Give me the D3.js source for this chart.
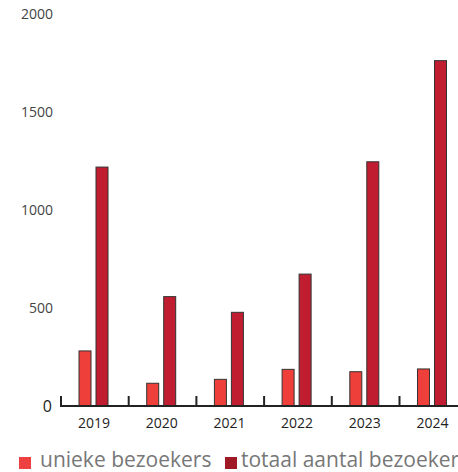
<!DOCTYPE html>
<html>
<head>
<meta charset="utf-8">
<script src="https://cdn.jsdelivr.net/npm/d3@7"></script>
<style>
  body { margin: 0; background: #fff; }
  svg { display: block; font-family: "Open Sans", sans-serif; }
</style>
</head>
<body>
<script>
// data
var years = ["2019", "2020", "2021", "2022", "2023", "2024"];
var series = ["unieke bezoekers", "totaal aantal bezoekers"];
var unique = [281, 116, 136, 187, 175, 189];
var total = [1219, 558, 478, 673, 1246, 1762];
var yTicks = [0, 500, 1000, 1500, 2000];

var barColors = ["#ee3f3a", "#c01e30"];
var legendColors = ["#ee4040", "#9f1a25"];

var svg = d3.select("body").append("svg")
    .attr("width", 458)
    .attr("height", 472);

var x0 = d3.scaleBand().domain(years).range([61, 61 + 67.7 * years.length]);
var x1 = d3.scaleBand().domain(series).range([18, 47]).paddingInner(5 / 17);
var y = d3.scaleLinear().domain([0, 2000]).range([406, 14]);

// y labels, no axis line (the zero is drawn a bit bigger and darker)
svg.append("g").selectAll("text")
    .data(yTicks)
    .enter().append("text")
    .attr("x", function (d) { return d === 0 ? 52 : 53; })
    .attr("y", function (d) { return y(d); })
    .attr("dy", "0.35em")
    .attr("text-anchor", "end")
    .attr("font-size", function (d) { return d === 0 ? 16 : 14; })
    .attr("fill", function (d) { return d === 0 ? "#222" : "#444"; })
    .text(function (d) { return d; });

// bars
var groups = svg.append("g").selectAll("g")
    .data(years)
    .enter().append("g")
    .attr("transform", function (d) { return "translate(" + x0(d) + ",0)"; });

groups.selectAll("rect")
    .data(function (d, i) { return [unique[i], total[i]]; })
    .enter().append("rect")
    .attr("x", function (d, j) { return x1(series[j]); })
    .attr("width", x1.bandwidth())
    .attr("y", function (d) { return y(d); })
    .attr("height", function (d) { return y(0) - y(d); })
    .attr("fill", function (d, j) { return barColors[j]; })
    .attr("stroke", "#333")
    .attr("stroke-width", 1);

// x axis: baseline with upward ticks at band edges
var xAxis = svg.append("g").attr("transform", "translate(0," + y(0) + ")");
xAxis.append("line")
    .attr("x1", 60).attr("x2", 458)
    .attr("stroke", "#222").attr("stroke-width", 2);
xAxis.selectAll("line.tick")
    .data(years)
    .enter().append("line")
    .attr("class", "tick")
    .attr("x1", function (d) { return x0(d); })
    .attr("x2", function (d) { return x0(d); })
    .attr("y1", 0).attr("y2", -10)
    .attr("stroke", "#222").attr("stroke-width", 2);
xAxis.selectAll("text")
    .data(years)
    .enter().append("text")
    .attr("x", function (d) { return x0(d) + 33; })
    .attr("y", 22)
    .attr("text-anchor", "middle")
    .attr("font-size", 14)
    .attr("fill", "#222")
    .text(function (d) { return d; });

// legend (runs off the right edge, as in the original)
var legendX = [19, 225];
var legendTextX = [21, 16];
var legend = svg.append("g").selectAll("g")
    .data(series)
    .enter().append("g")
    .attr("transform", function (d, i) { return "translate(" + legendX[i] + ",457)"; });
legend.append("rect")
    .attr("width", 12).attr("height", 12)
    .attr("fill", function (d, i) { return legendColors[i]; });
legend.append("text")
    .attr("x", function (d, i) { return legendTextX[i]; })
    .attr("y", 10)
    .attr("font-size", 21)
    .attr("fill", "#777")
    .text(function (d) { return d; });
</script>
</body>
</html>
